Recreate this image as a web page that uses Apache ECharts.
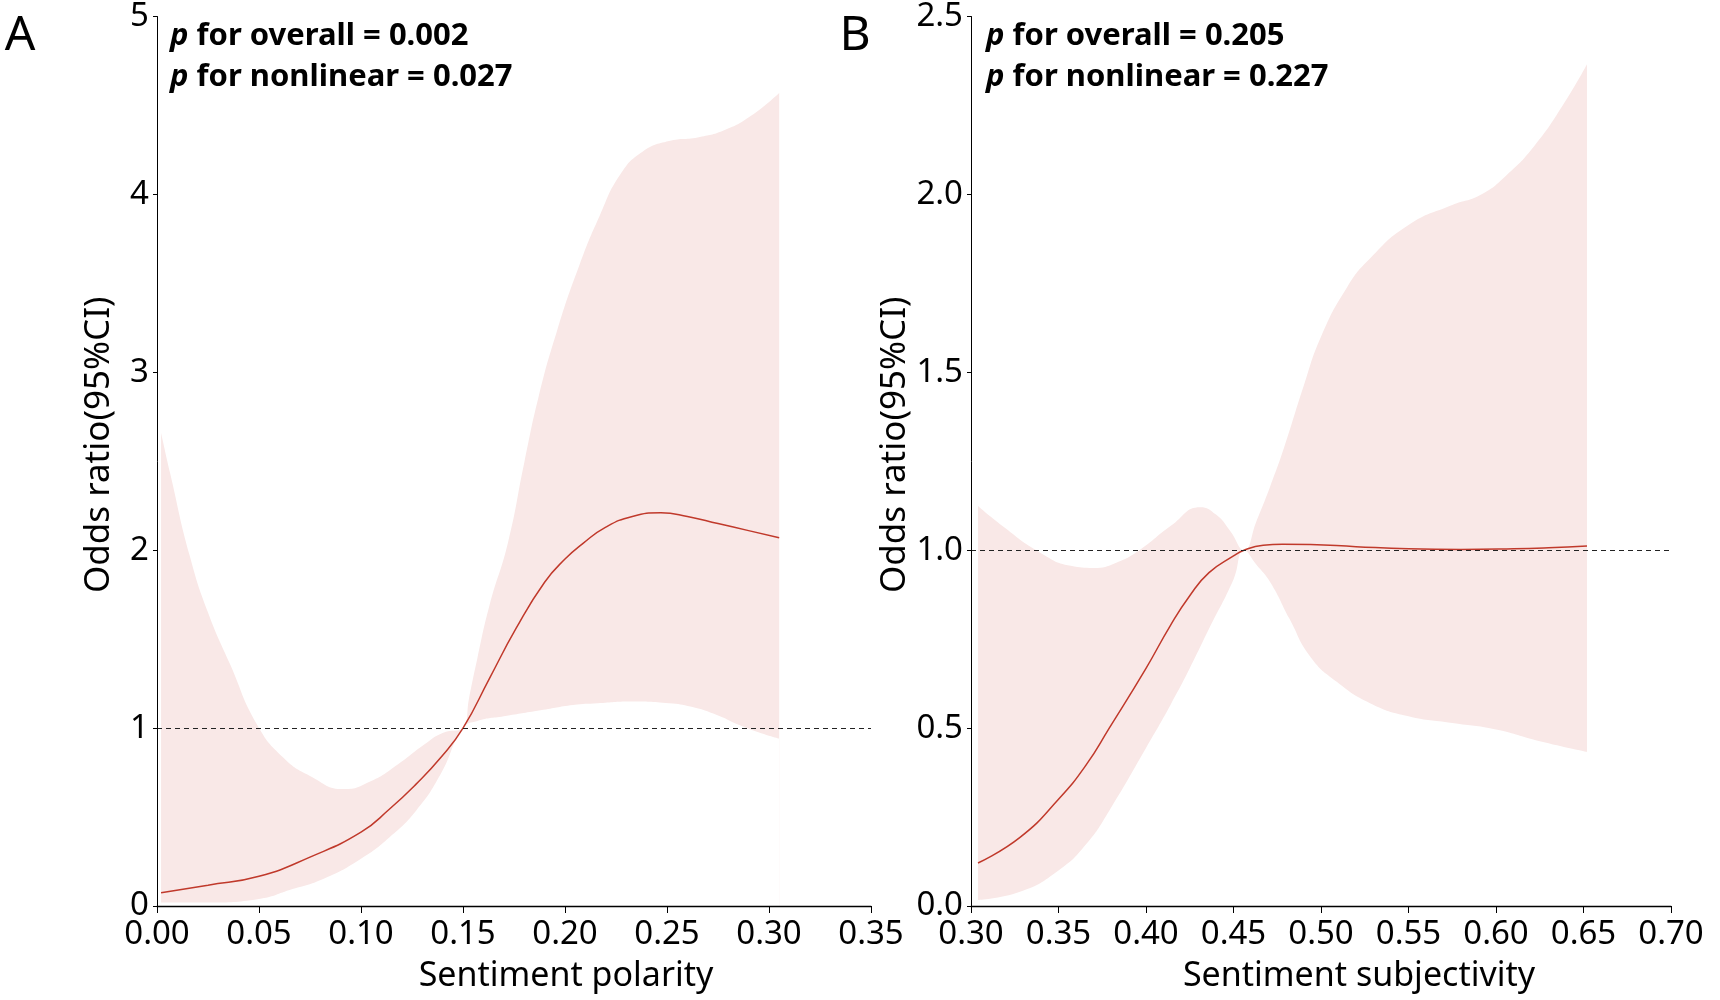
<!DOCTYPE html>
<html>
<head>
<meta charset="utf-8">
<script src="https://cdn.jsdelivr.net/npm/echarts@6/dist/echarts.min.js"></script>
<style>
  html, body { margin: 0; padding: 0; background: #fff; }
  #main { width: 1720px; height: 1000px; }
</style>
</head>
<body>
<div id="main"></div>
<script>
// 面板A：情感极性（上限、下限、OR曲线）
var xUpA = [0.002, 0.0065, 0.016, 0.025, 0.036, 0.049, 0.062, 0.075, 0.0915, 0.105, 0.118, 0.131, 0.14, 0.15, 0.153, 0.157, 0.163, 0.172, 0.18, 0.187, 0.196, 0.207, 0.217, 0.227, 0.238, 0.251, 0.265, 0.278, 0.291, 0.305];
var upA = [2.66, 2.43, 1.97, 1.65, 1.354, 1.02, 0.833, 0.731, 0.657, 0.703, 0.796, 0.908, 0.973, 1.0, 1.17, 1.39, 1.69, 2.04, 2.49, 2.86, 3.23, 3.60, 3.88, 4.11, 4.24, 4.30, 4.32, 4.36, 4.44, 4.57];
var xLowA = [0.002, 0.025, 0.05, 0.065, 0.082, 0.10, 0.114, 0.127, 0.139, 0.15, 0.157, 0.17, 0.188, 0.204, 0.216, 0.232, 0.251, 0.262, 0.273, 0.289, 0.305];
var lowA = [0.02, 0.02, 0.04, 0.09, 0.155, 0.266, 0.387, 0.536, 0.74, 1.0, 1.04, 1.066, 1.10, 1.13, 1.14, 1.15, 1.14, 1.12, 1.08, 1.0, 0.94];
var xLineA = [0.002, 0.025, 0.05, 0.075, 0.10, 0.114, 0.127, 0.139, 0.15, 0.163, 0.176, 0.19, 0.20, 0.209, 0.22, 0.233, 0.247, 0.26, 0.275, 0.29, 0.305];
var lineA = [0.074, 0.117, 0.167, 0.275, 0.415, 0.545, 0.685, 0.833, 1.0, 1.28, 1.56, 1.82, 1.95, 2.04, 2.13, 2.19, 2.21, 2.19, 2.15, 2.11, 2.07];

// 面板B：情感主观性
var xUpB = [0.304, 0.318, 0.338, 0.357, 0.37, 0.383, 0.397, 0.414, 0.431, 0.44, 0.448, 0.456, 0.463, 0.471, 0.479, 0.49, 0.50, 0.515, 0.528, 0.55, 0.575, 0.591, 0.606, 0.622, 0.638, 0.652];
var upB = [1.124, 1.068, 0.998, 0.956, 0.95, 0.965, 1.003, 1.068, 1.121, 1.10, 1.055, 1.0, 1.08, 1.18, 1.29, 1.46, 1.60, 1.74, 1.82, 1.914, 1.97, 1.998, 2.054, 2.137, 2.249, 2.366];
var xLowB = [0.304, 0.328, 0.35, 0.366, 0.379, 0.40, 0.414, 0.425, 0.436, 0.45, 0.456, 0.463, 0.471, 0.482, 0.494, 0.509, 0.528, 0.55, 0.575, 0.60, 0.625, 0.652];
var lowB = [0.017, 0.04, 0.10, 0.175, 0.268, 0.444, 0.565, 0.668, 0.779, 0.918, 1.0, 0.96, 0.91, 0.807, 0.70, 0.63, 0.57, 0.533, 0.514, 0.496, 0.463, 0.433];
var xLineB = [0.304, 0.328, 0.35, 0.366, 0.379, 0.40, 0.414, 0.425, 0.436, 0.45, 0.456, 0.467, 0.478, 0.494, 0.52, 0.55, 0.58, 0.61, 0.63, 0.652];
var lineB = [0.121, 0.193, 0.30, 0.398, 0.50, 0.668, 0.789, 0.872, 0.937, 0.984, 1.0, 1.014, 1.017, 1.016, 1.01, 1.004, 1.002, 1.004, 1.007, 1.012];

// 坐标轴刻度
var yTicksA = [0, 1, 2, 3, 4, 5];
var yTicksB = [0, 0.5, 1.0, 1.5, 2.0, 2.5];
var xTicksA = [0, 0.05, 0.10, 0.15, 0.20, 0.25, 0.30, 0.35];
var xTicksB = [0.30, 0.35, 0.40, 0.45, 0.50, 0.55, 0.60, 0.65, 0.70];

var FONT = 'Noto Sans';
var bandColor = '#f9e8e7';
var lineColor = '#c0392b';

function pairs (xs, ys) {
  return xs.map(function (x, i) { return [x, ys[i]]; });
}

function xAxisOpt (idx, ticks, name, dx) {
  return {
    type: 'value', gridIndex: idx, z: 10,
    min: ticks[0], max: ticks[ticks.length - 1], interval: 0.05,
    name: name, nameLocation: 'middle', nameGap: 53,
    nameTextStyle: { fontFamily: FONT, fontSize: 34, color: '#000', padding: [0, 0, 0, dx] },
    axisLine: { lineStyle: { color: '#000', width: 1.3 } },
    axisTick: { length: 7, lineStyle: { color: '#000' } },
    axisLabel: { fontFamily: FONT, fontSize: 33, color: '#000', margin: 12,
      formatter: function (v) { return v.toFixed(2); } },
    splitLine: { show: false }
  };
}
function yAxisOpt (idx, ticks, gap, dec) {
  return {
    type: 'value', gridIndex: idx, z: 10,
    min: ticks[0], max: ticks[ticks.length - 1], interval: ticks[1] - ticks[0],
    name: 'Odds ratio(95%CI)', nameLocation: 'middle', nameGap: gap,
    nameTextStyle: { fontFamily: FONT, fontSize: 35, color: '#000', padding: [0, 0, 0, 33] },
    axisLine: { show: true, lineStyle: { color: '#000', width: 1 } },
    axisTick: { show: true, length: 4, lineStyle: { color: '#000' } },
    axisLabel: { fontFamily: FONT, fontSize: 33, color: '#000', margin: 8,
      formatter: function (v) { return v.toFixed(dec); } },
    splitLine: { show: false }
  };
}
// 置信带：上限区域填粉色，下限区域用白色盖住
function panelSeries (idx, xu, up, xl, low, xo, or) {
  return [
    {
      type: 'line', xAxisIndex: idx, yAxisIndex: idx,
      data: pairs(xu, up), smooth: 0.5, symbol: 'none',
      lineStyle: { width: 0 }, areaStyle: { color: bandColor, opacity: 1 }, silent: true
    },
    {
      type: 'line', xAxisIndex: idx, yAxisIndex: idx,
      data: pairs(xl, low), smooth: 0.5, symbol: 'none',
      lineStyle: { width: 0 }, areaStyle: { color: '#ffffff', opacity: 1 }, silent: true
    },
    {
      type: 'line', xAxisIndex: idx, yAxisIndex: idx,
      data: pairs(xo, or), smooth: 0.5, symbol: 'none',
      lineStyle: { color: lineColor, width: 1.5 },
      markLine: {
        silent: true, symbol: ['none', 'none'], label: { show: false },
        lineStyle: { color: '#222', type: [5, 4], width: 1.2 },
        data: [{ yAxis: 1 }]
      }
    }
  ];
}

function pText (x, y, txt) {
  return {
    type: 'text', x: x, y: y,
    style: {
      text: '{i|p} ' + txt,
      fontFamily: FONT, fontSize: 31, fontWeight: 'bold', fill: '#000', verticalAlign: 'middle',
      rich: { i: { fontFamily: FONT, fontSize: 31, fontWeight: 'bold', fontStyle: 'italic', fill: '#000' } }
    }
  };
}

var myChart = echarts.init(document.getElementById('main'));
var option = {
  backgroundColor: '#fff',
  animation: false,
  grid: [
    { left: 157, top: 10, width: 714, height: 896 },
    { left: 971, top: 10, width: 700, height: 896 }
  ],
  xAxis: [
    xAxisOpt(0, xTicksA, 'Sentiment polarity', 104),
    xAxisOpt(1, xTicksB, 'Sentiment subjectivity', 76)
  ],
  yAxis: [
    yAxisOpt(0, yTicksA, 40, 0),
    yAxisOpt(1, yTicksB, 56, 1)
  ],
  graphic: [
    { type: 'text', x: 20, y: 36, style: { text: 'A', fontFamily: FONT, fontSize: 48, fill: '#000', align: 'center', verticalAlign: 'middle' } },
    { type: 'text', x: 855, y: 36, style: { text: 'B', fontFamily: FONT, fontSize: 48, fill: '#000', align: 'center', verticalAlign: 'middle' } },
    pText(170, 36, 'for overall = 0.002'),
    pText(170, 77, 'for nonlinear = 0.027'),
    pText(986, 36, 'for overall = 0.205'),
    pText(986, 77, 'for nonlinear = 0.227')
  ],
  series: panelSeries(0, xUpA, upA, xLowA, lowA, xLineA, lineA)
    .concat(panelSeries(1, xUpB, upB, xLowB, lowB, xLineB, lineB))
};
myChart.setOption(option);
</script>
</body>
</html>
